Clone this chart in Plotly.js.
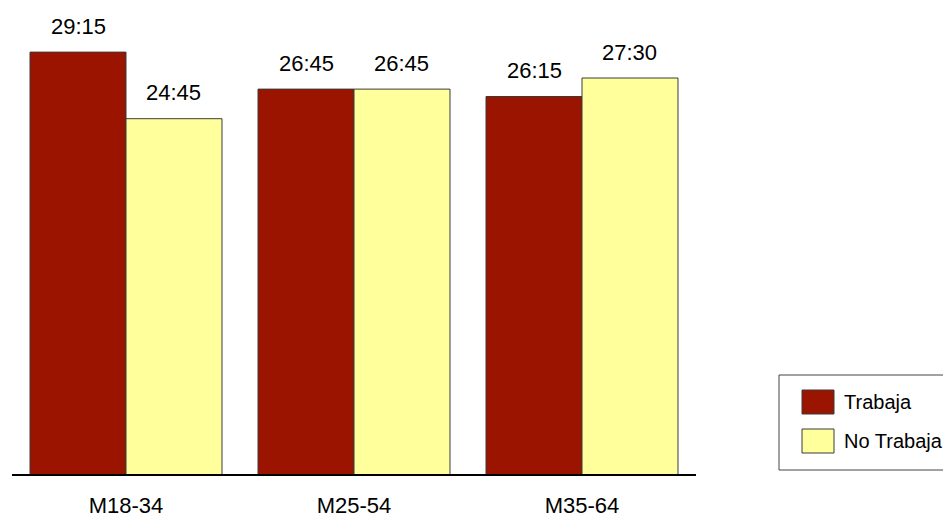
<!DOCTYPE html>
<html>
<head>
<meta charset="utf-8">
<script src="https://cdn.plot.ly/plotly-3.0.1.min.js"></script>
<style>
html,body{margin:0;padding:0;background:#fff;}
#chart{width:943px;height:519px;}
</style>
</head>
<body>
<div id="chart"></div>
<script>
// Data (hours, decimal)
const categories = ['M18-34', 'M25-54', 'M35-64'];
const seriesNames = ['Trabaja', 'No Trabaja'];
const trabaja = [29.25, 26.75, 26.25];
const noTrabaja = [24.75, 26.75, 27.5];
const seriesColors = ['#9a1400', '#ffff9c'];

const FONT = '"Liberation Sans", Arial, sans-serif';
const FS = 22;

function fmt(v) {
  const h = Math.floor(v);
  const m = Math.round((v - h) * 60);
  return h + ':' + String(m).padStart(2, '0');
}

const series = [trabaja, noTrabaja];
const xIdx = categories.map((c, i) => i);

const traces = series.map((vals, s) => ({
  type: 'bar',
  name: seriesNames[s],
  x: xIdx,
  y: vals,
  marker: {color: seriesColors[s], line: {color: '#3a3a3a', width: 1}},
  hoverinfo: 'none',
  showlegend: false
}));

const bargap = 0.158;
const barW = (1 - bargap) / series.length;

const annotations = [];
series.forEach((vals, s) => {
  vals.forEach((v, i) => {
    annotations.push({
      x: i + (s - (series.length - 1) / 2) * barW,
      y: v,
      xref: 'x', yref: 'y',
      text: fmt(v),
      showarrow: false,
      yanchor: 'middle',
      yshift: 26,
      font: {family: FONT, size: FS, color: '#000'}
    });
  });
});

// Custom legend (layout only)
const plotL = 12, plotR = 696, plotT = 20, plotB = 474;
const px = x => (x - plotL) / (plotR - plotL);
const py = y => (plotB - y) / (plotB - plotT);

const shapes = [
  {type: 'rect', xref: 'paper', yref: 'paper', x0: px(779), x1: px(960), y0: py(470), y1: py(375),
   line: {color: '#444', width: 1}, fillcolor: 'rgba(0,0,0,0)'}
];
const legendRows = [402, 441];
seriesNames.forEach((n, s) => {
  shapes.push({type: 'rect', xref: 'paper', yref: 'paper',
    x0: px(802), x1: px(834), y0: py(legendRows[s] + 12), y1: py(legendRows[s] - 12),
    line: {color: '#3a3a3a', width: 1}, fillcolor: seriesColors[s]});
  annotations.push({xref: 'paper', yref: 'paper', x: px(842), y: py(legendRows[s]),
    xanchor: 'left', yanchor: 'middle', text: n, showarrow: false,
    font: {family: FONT, size: 20, color: '#000'}});
});

const layout = {
  width: 943, height: 519,
  margin: {l: plotL, r: 943 - plotR, t: plotT, b: 519 - plotB},
  paper_bgcolor: '#fff', plot_bgcolor: '#fff',
  barmode: 'group', bargap: bargap, bargroupgap: 0,
  showlegend: false,
  xaxis: {
    tickmode: 'array', tickvals: xIdx, ticktext: categories,
    range: [-0.5, 2.5], showgrid: false, zeroline: false,
    showline: true, linecolor: '#000', linewidth: 2, ticks: '',
    tickfont: {family: FONT, size: FS, color: '#000'},
    ticklabelstandoff: 11
  },
  yaxis: {range: [0.74, 31.42], visible: false, showgrid: false, zeroline: false},
  annotations: annotations,
  shapes: shapes,
  font: {family: FONT}
};

Plotly.newPlot('chart', traces, layout, {displayModeBar: false, staticPlot: true});
</script>
</body>
</html>
